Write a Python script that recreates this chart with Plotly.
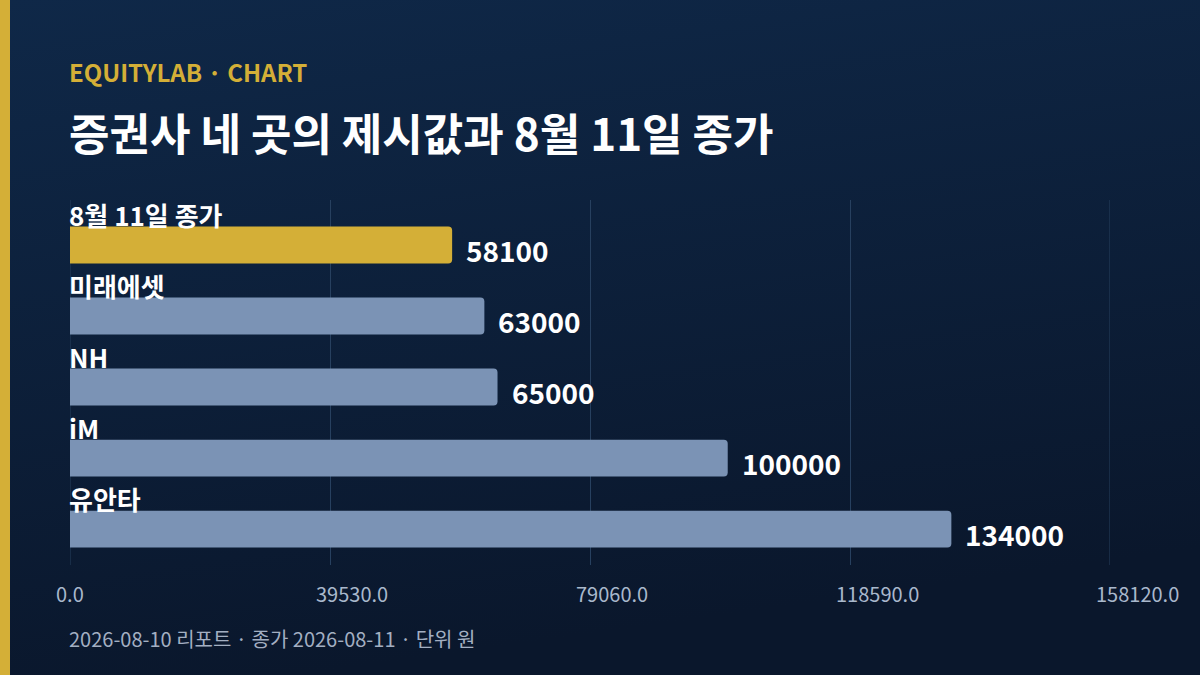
import plotly.graph_objects as go

brokers = ["8월 11일 종가", "미래에셋", "NH", "iM", "유안타"]
prices = [58100, 63000, 65000, 100000, 134000]
bar_colors = ["#d4af37", "#7b93b5", "#7b93b5", "#7b93b5", "#7b93b5"]
tick_step = 39530
tick_vals = [tick_step * i for i in range(5)]

FONT = "Noto Sans CJK KR"
GRID = "#27405f"

bg_svg = (
    "data:image/svg+xml;utf8,"
    "<svg xmlns='http://www.w3.org/2000/svg' width='1200' height='675'>"
    "<defs><linearGradient id='g' x1='0' y1='0' x2='0.25' y2='1'>"
    "<stop offset='0' stop-color='%230f2848'/>"
    "<stop offset='1' stop-color='%230a172c'/>"
    "</linearGradient></defs>"
    "<rect width='1200' height='675' fill='url(%23g)'/></svg>"
)

fig = go.Figure()
fig.add_trace(go.Bar(
    x=prices,
    y=brokers,
    orientation="h",
    width=0.52,
    marker=dict(color=bar_colors, cornerradius=4, line=dict(width=0)),
    hoverinfo="skip",
))

annotations = []
for name, val in zip(brokers, prices):
    annotations.append(dict(
        x=0, y=name, xref="x", yref="y", text=name, showarrow=False,
        xanchor="left", yanchor="middle", yshift=31, xshift=-3,
        font=dict(family=FONT, size=26, color="#ffffff", weight="bold"),
    ))
    annotations.append(dict(
        x=val, y=name, xref="x", yref="y", text=str(val), showarrow=False,
        xanchor="left", yanchor="middle", xshift=12, yshift=-5,
        font=dict(family=FONT, size=28, color="#ffffff", weight="bold"),
    ))

annotations += [
    dict(x=67, y=71, xref="paper", yref="paper", text="EQUITYLAB · CHART",
         showarrow=False, xanchor="left", yanchor="middle",
         font=dict(family=FONT, size=24, color="#d4af37", weight="bold")),
    dict(x=67, y=132, xref="paper", yref="paper", text="증권사 네 곳의 제시값과 8월 11일 종가",
         showarrow=False, xanchor="left", yanchor="middle",
         font=dict(family=FONT, size=44, color="#ffffff", weight="bold")),
    dict(x=67, y=638, xref="paper", yref="paper",
         text="2026-08-10 리포트 · 종가 2026-08-11 · 단위 원",
         showarrow=False, xanchor="left", yanchor="middle",
         font=dict(family=FONT, size=20, color="#a3afc2")),
]
# convert pixel positions for header/footer annotations to paper coords
L, R, T, B = 70, 90, 200, 110
pw, ph = 1200 - L - R, 675 - T - B
for a in annotations:
    if a["xref"] == "paper":
        a["x"] = (a["x"] - L) / pw
        a["y"] = (675 - B - a["y"]) / ph

shapes = [dict(type="rect", xref="paper", yref="paper",
               x0=-L / pw, x1=(10 - L) / pw, y0=-B / ph, y1=1 + T / ph,
               fillcolor="#d4af37", line=dict(width=0), layer="above")]
# edge gridlines (plotly drops gridlines sitting on the plot border)
for v in (tick_vals[0], tick_vals[-1]):
    shapes.append(dict(type="line", xref="x", yref="paper", x0=v, x1=v,
                       y0=0, y1=1, line=dict(color=GRID, width=1), layer="below"))

fig.update_layout(
    width=1200, height=675,
    margin=dict(l=L, r=R, t=T, b=B),
    paper_bgcolor="#0c1d36",
    plot_bgcolor="rgba(0,0,0,0)",
    showlegend=False,
    font=dict(family=FONT),
    annotations=annotations,
    images=[dict(source=bg_svg, xref="paper", yref="paper",
                 x=-L / pw, y=1 + T / ph, sizex=1200 / pw, sizey=675 / ph,
                 xanchor="left", yanchor="top", sizing="stretch", layer="below")],
    shapes=shapes,
    xaxis=dict(
        range=[0, tick_vals[-1]], tickvals=tick_vals, tickformat=".1f",
        showgrid=True, gridcolor=GRID, gridwidth=1, zeroline=False,
        showline=False, ticks="", ticklabelstandoff=16,
        ticklabelposition="outside right", ticklabelshift=-14,
        tickfont=dict(family=FONT, size=20, color="#a9b8cc"),
    ),
    yaxis=dict(
        categoryorder="array", categoryarray=brokers,
        range=[4.505, -0.634], showticklabels=False, showgrid=False,
        zeroline=False, showline=False,
    ),
)

fig.write_html("out.html", config={"displayModeBar": False},
               post_script="document.body.style.margin='0';")
